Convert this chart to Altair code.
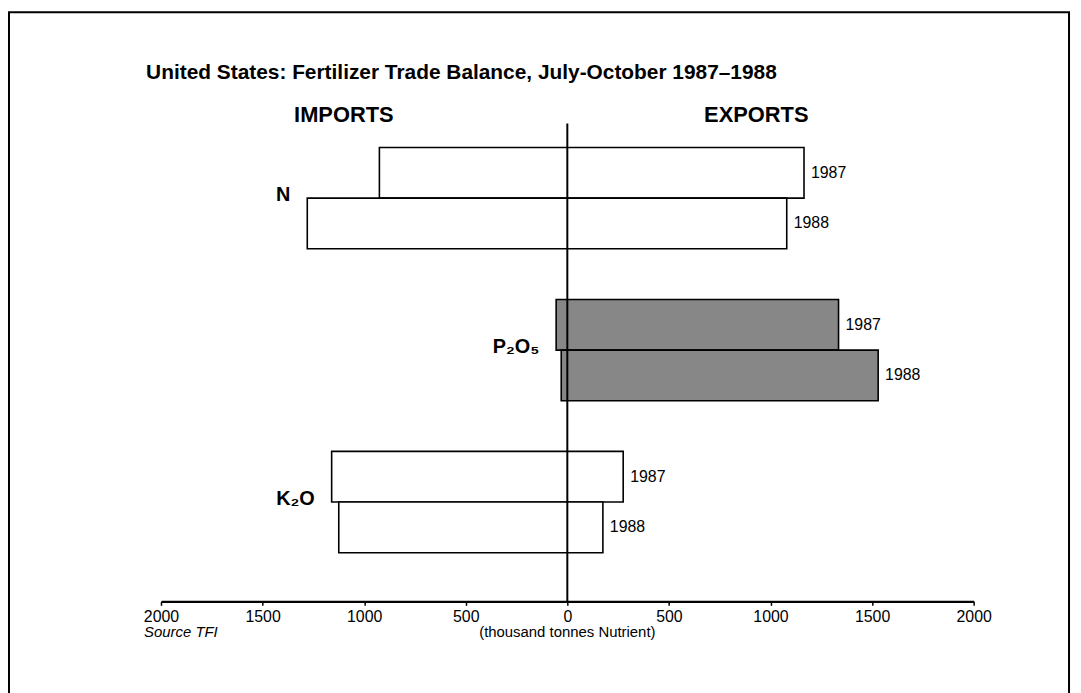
import altair as alt
import pandas as pd

# ---- data ----
NUTRIENTS = ["N", "N", "P₂O₅", "P₂O₅", "K₂O", "K₂O"]
YEARS = ["1987", "1988", "1987", "1988", "1987", "1988"]
IMPORTS = [925, 1280, 55, 30, 1160, 1125]
EXPORTS = [1165, 1080, 1335, 1530, 275, 175]
ROW_KEYS = ["N 1987", "N 1988", "gap1", "P 1987", "P 1988", "gap2", "K 1987", "K 1988"]
ROWS = ["N 1987", "N 1988", "P 1987", "P 1988", "K 1987", "K 1988"]
TICKS = [-2000, -1500, -1000, -500, 0, 500, 1000, 1500, 2000]
TITLE = ["United States: Fertilizer Trade Balance, July-October 1987\u20131988"]
HEAD_L = ["IMPORTS"]
HEAD_R = ["EXPORTS"]
SOURCE = ["Source TFI"]
UNIT = ["(thousand tonnes Nutrient)"]

W, H = 818, 481
FONT = "Liberation Sans"

df = pd.DataFrame({
    "nutrient": NUTRIENTS,
    "year": YEARS,
    "row": ROWS,
    "imports": IMPORTS,
    "exports": EXPORTS,
})
df["neg_imp"] = -df["imports"]

lab = df.groupby("nutrient", sort=False).agg(imp=("imports", "max"), row=("row", "first")).reset_index()
lab["neg"] = -lab["imp"]

xscale = alt.Scale(domain=[-2000, 2000], nice=False, zero=False)
yscale = alt.Scale(domain=ROW_KEYS, paddingInner=0, paddingOuter=0.716, align=0.33)

xaxis = alt.Axis(values=TICKS, labelExpr="abs(datum.value)", title=None, grid=False,
                 domainColor="black", domainWidth=2.2, tickColor="black", tickSize=4,
                 tickWidth=1.5, labelFontSize=16, labelColor="black", labelPadding=3,
                 labelFlush=False, labelOverlap=False, labelFont=FONT)

bars = alt.Chart(df).mark_bar(stroke="black", strokeWidth=1.6).encode(
    x=alt.X("neg_imp:Q", scale=xscale, axis=xaxis),
    x2="exports:Q",
    y=alt.Y("row:N", scale=yscale, axis=None),
    fill=alt.Fill("nutrient:N", scale=alt.Scale(domain=["N", "P₂O₅", "K₂O"],
                                                range=["white", "#878787", "white"]),
                  legend=None),
)

center = alt.Chart(pd.DataFrame({"v": [0]})).mark_rule(color="black", strokeWidth=2).encode(
    x=alt.X("v:Q", scale=xscale), y=alt.value(0), y2=alt.value(H))

years = alt.Chart(df).mark_text(align="left", baseline="middle", dx=7, fontSize=16,
                                font=FONT, color="black").encode(
    x=alt.X("exports:Q", scale=xscale),
    y=alt.Y("row:N", scale=yscale, axis=None),
    text="year:N")

cats = alt.Chart(lab).mark_text(align="right", baseline="middle", dx=-17, dy=22, fontSize=20,
                                fontWeight="bold", font=FONT, color="black").encode(
    x=alt.X("neg:Q", scale=xscale),
    y=alt.Y("row:N", scale=yscale, axis=None),
    text="nutrient:N")

title = alt.Chart(pd.DataFrame({"t": TITLE})).mark_text(
    align="left", baseline="alphabetic", fontSize=21, fontWeight="bold", font=FONT,
    color="black").encode(x=alt.value(-15), y=alt.value(-45), text="t:N")

head_l = alt.Chart(pd.DataFrame({"t": HEAD_L})).mark_text(
    align="center", baseline="alphabetic", fontSize=22, fontWeight="bold", font=FONT,
    color="black").encode(x=alt.datum(-1100), y=alt.value(-1), text="t:N")

head_r = alt.Chart(pd.DataFrame({"t": HEAD_R})).mark_text(
    align="center", baseline="alphabetic", fontSize=22, fontWeight="bold", font=FONT,
    color="black").encode(x=alt.datum(930), y=alt.value(-1), text="t:N")

source = alt.Chart(pd.DataFrame({"t": SOURCE})).mark_text(
    align="left", baseline="alphabetic", fontSize=15, fontStyle="italic", font=FONT,
    color="black").encode(x=alt.value(-17), y=alt.value(H + 36), text="t:N")

unit = alt.Chart(pd.DataFrame({"t": UNIT})).mark_text(
    align="center", baseline="alphabetic", fontSize=15, font=FONT,
    color="black").encode(x=alt.datum(0), y=alt.value(H + 36), text="t:N")

border = alt.Chart(pd.DataFrame({"t": ["frame"]})).mark_rect(
    fill=None, fillOpacity=0, stroke="black", strokeWidth=2).encode(
    x=alt.value(-153), x2=alt.value(914), y=alt.value(-112), y2=alt.value(H + 200))

chart = alt.layer(bars, border, center, years, cats, title, head_l, head_r, source, unit).properties(
    width=W, height=H,
    autosize=alt.AutoSizeParams(type="none"),
    padding={"left": 154, "top": 114, "right": 100, "bottom": 90},
    background="white",
).configure_view(stroke=None).configure_text(font=FONT)

chart.save("out.html", embed_options={"renderer": "svg", "actions": False})
